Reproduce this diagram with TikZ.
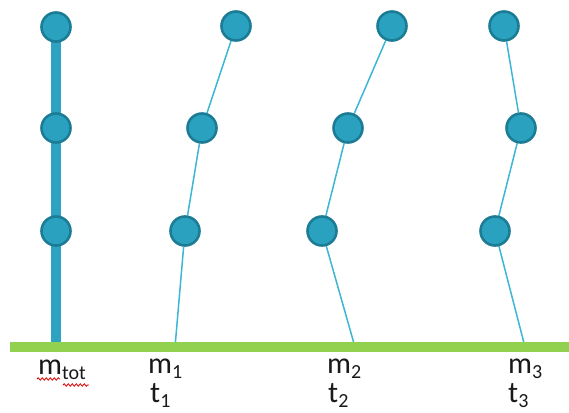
\documentclass[tikz,border=0pt]{standalone}
\usepackage{fontspec}
\setmainfont{Carlito}
\usepackage{xcolor}
\usetikzlibrary{arrows.meta,positioning,backgrounds,decorations.pathmorphing}

\definecolor{ballfill}{HTML}{2AA2BF}
\definecolor{balledge}{HTML}{1C7C95}
\definecolor{barcol}{HTML}{2EA2C1}
\definecolor{rodcol}{HTML}{3DB6D6}
\definecolor{groundcol}{HTML}{92D050}

\newcommand{\lowsub}[1]{\raisebox{-5pt}[0pt][0pt]{\fontsize{20}{20}\selectfont #1}}

\begin{document}
\begin{tikzpicture}[
  x=1pt,y=-1pt,
  ball/.style={circle,fill=ballfill,draw=balledge,line width=2.6pt,minimum size=29pt,inner sep=0pt},
  bar/.style={barcol,line width=10pt},
  rod/.style={rodcol,line width=1.5pt},
  ground/.style={groundcol,line width=10pt},
  lab/.style={anchor=base west,inner sep=0pt,font=\fontsize{30}{30}\selectfont,text=black!90},
  squiggle/.style={red!85!black,line width=0.8pt,decorate,decoration={snake,amplitude=1.2pt,segment length=4pt}}
]
\useasboundingbox (0,0) rectangle (569,412);

% balls, one column per state
\node[ball] (p01) at (56,27) {};
\node[ball] (p02) at (56,128) {};
\node[ball] (p03) at (56,231) {};

\node[ball] (p11) at (236,26) {};
\node[ball] (p12) at (202,128) {};
\node[ball] (p13) at (185,231) {};

\node[ball] (p21) at (392,26) {};
\node[ball] (p22) at (348,128) {};
\node[ball] (p23) at (322,231) {};

\node[ball] (p31) at (504,26) {};
\node[ball] (p32) at (521,128) {};
\node[ball] (p33) at (495,231) {};

% feet on the ground
\coordinate (g0) at (56,347);
\coordinate (g1) at (175,347);
\coordinate (g2) at (355,347);
\coordinate (g3) at (525,347);
\coordinate (gl) at (10,347);
\coordinate (gr) at (569,347);

\begin{scope}[on background layer]
\draw[bar] (p01.center) -- (g0);
\draw[rod] (p11) -- (p12) -- (p13) -- (g1);
\draw[rod] (p21) -- (p22) -- (p23) -- (g2);
\draw[rod] (p31) -- (p32) -- (p33) -- (g3);
\draw[ground] (gl) -- (gr);
\end{scope}

% labels
\node[lab] (mtot) at (38,374) {m\lowsub{tot}};
\node[lab] (m1) at (148,373) {m\lowsub{1}};
\node[lab] (t1) at (150,402) {t\lowsub{1}};
\node[lab] (m2) at (327,373) {m\lowsub{2}};
\node[lab] (t2) at (328,402) {t\lowsub{2}};
\node[lab] (m3) at (508,373) {m\lowsub{3}};
\node[lab] (t3) at (508,402) {t\lowsub{3}};

\draw[squiggle] (37,379) -- (60,379);
\draw[squiggle] (63,385) -- (89,385);

\end{tikzpicture}
\end{document}
